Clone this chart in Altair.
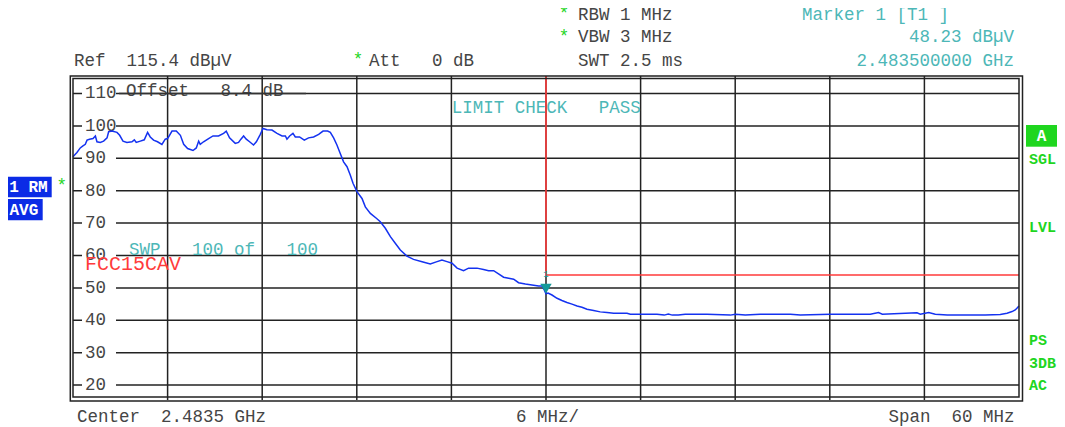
import altair as alt
import pandas as pd

# ---------------- data ----------------
# frequency offset from centre 2.4835 GHz in MHz, trace level in dBuV
freq_mhz = [-30.0, -29.75, -29.54, -29.37, -29.22, -29.11, -28.95, -28.73, -28.58, -28.48,
            -28.27, -28.06, -27.84, -27.74, -27.53, -27.21, -27.04, -26.83, -26.58, -26.26,
            -26.11, -25.99, -25.73, -25.48, -25.27, -25.10, -24.89, -24.64, -24.36, -24.15,
            -24.00, -23.72, -23.45, -23.19, -22.98, -22.73, -22.39, -22.18, -22.03, -21.93,
            -21.72, -21.40, -21.12, -20.77, -20.45, -20.28, -20.07, -19.71, -19.50, -19.35,
            -19.18, -19.01, -18.80, -18.55, -18.37, -18.12, -17.95, -17.70, -17.38, -17.06,
            -16.74, -16.53, -16.43, -16.26, -16.05, -15.90, -15.63, -15.33, -15.06, -14.74,
            -14.42, -14.14, -13.85, -13.68, -13.47, -13.26, -13.05, -12.84, -12.62, -12.41,
            -12.24, -11.99, -11.67, -11.46, -11.14, -10.76, -10.51, -10.19, -9.87, -9.56,
            -9.24, -8.82, -8.40, -7.86, -7.34, -6.91, -6.60, -6.28, -5.96, -5.64,
            -5.23, -4.91, -4.38, -3.96, -3.64, -3.32, -3.01, -2.69, -2.37, -2.05,
            -1.74, -1.31, -0.89, -0.47, -0.25, -0.11, 0.00, 0.13, 0.38, 0.70,
            1.01, 1.33, 1.65, 1.97, 2.28, 2.60, 3.02, 3.44, 3.87, 4.29,
            4.71, 5.14, 5.35, 5.98, 7.04, 7.50, 7.76, 8.01, 8.39, 8.83,
            10.21, 11.69, 12.01, 12.64, 13.59, 15.50, 16.13, 18.03, 20.57, 21.09,
            21.33, 23.53, 23.74, 24.27, 24.69, 25.45, 26.28, 27.86, 28.81, 29.24,
            29.56, 29.76, 30.0]
level_dbuv = [90.5, 91.8, 93.2, 93.8, 94.3, 95.6, 95.9, 96.1, 96.9, 95.1,
              94.9, 95.3, 96.3, 98.2, 98.4, 98.0, 97.1, 95.3, 94.9, 95.1,
              95.7, 94.9, 95.3, 95.7, 98.0, 96.6, 95.6, 95.1, 94.3, 95.9,
              96.1, 98.4, 98.4, 97.1, 94.3, 93.0, 92.4, 93.2, 95.3, 94.3,
              95.1, 96.1, 96.9, 96.9, 97.7, 98.4, 96.3, 94.6, 94.9, 95.9,
              96.9, 95.9, 95.1, 94.1, 95.1, 97.4, 99.2, 98.8, 98.7, 97.7,
              96.9, 96.9, 95.9, 96.9, 97.7, 96.6, 96.6, 95.6, 96.3, 96.6,
              97.4, 98.4, 98.4, 98.0, 96.3, 94.1, 91.5, 88.9, 87.4, 84.8,
              82.3, 79.7, 77.6, 75.0, 73.0, 71.5, 70.4, 68.4, 65.8, 63.8,
              61.7, 59.8, 58.8, 58.1, 57.4, 58.1, 58.6, 58.1, 57.6, 56.1,
              55.3, 56.1, 56.1, 55.7, 55.3, 55.3, 54.3, 53.3, 53.0, 52.7,
              51.6, 51.2, 50.9, 50.6, 50.6, 49.4, 48.2, 48.4, 47.8, 46.8,
              46.1, 45.5, 45.0, 44.4, 44.0, 43.4, 43.0, 42.6, 42.4, 42.2,
              42.2, 42.2, 41.9, 41.9, 41.9, 41.6, 41.9, 41.6, 41.6, 41.9,
              41.9, 41.6, 41.9, 41.6, 41.9, 41.9, 41.6, 41.9, 41.9, 42.4,
              41.9, 42.3, 41.9, 42.4, 41.9, 41.6, 41.6, 41.6, 41.8, 42.2,
              42.7, 43.2, 44.4]

y_ticks = [110, 100, 90, 80, 70, 60, 50, 40, 30, 20]
x_grid = [-24, -18, -12, -6, 0, 6, 12, 18, 24]

limit_freq = [0, 0, 30]
limit_level = [115.4, 54, 54]

marker_freq = [0.0]
marker_level = [48.23]

# ---------------- styling ----------------
W, H = 946, 324
FONT = "Liberation Mono"
FS = 17.5
GRID = "#222222"
TEXT = "#454545"
CYAN = "#4db7b7"
GREEN = "#1fd61f"
BLUEBOX = "#0b2be6"
TRACE = "#1432f0"
RED = "#ff3b3b"
TEAL = "#159a9a"
NB = "\u00a0"

x_scale = alt.Scale(domain=[-30, 30], nice=False, zero=False)
y_scale = alt.Scale(domain=[15.4, 115.4], nice=False, zero=False)

trace_df = pd.DataFrame({"f": freq_mhz, "L": level_dbuv})

trace = alt.Chart(trace_df).mark_line(color=TRACE, strokeWidth=1.5).encode(
    x=alt.X("f:Q", scale=x_scale, axis=None),
    y=alt.Y("L:Q", scale=y_scale, axis=None),
)

tick_df = pd.DataFrame({"v": y_ticks})
hgrid = alt.Chart(tick_df).mark_rule(color=GRID, strokeWidth=1.5).encode(
    y=alt.Y("v:Q", scale=y_scale, axis=None)
)
vgrid = alt.Chart(pd.DataFrame({"g": x_grid})).mark_rule(color=GRID, strokeWidth=1.5).encode(
    x=alt.X("g:Q", scale=x_scale, axis=None)
)

label_bg = alt.Chart(tick_df).mark_rect(color="white").transform_calculate(
    lo="datum.v - 2.3", hi="datum.v + 2.3"
).encode(
    x=alt.value(9), x2=alt.value(43),
    y=alt.Y("lo:Q", scale=y_scale, axis=None), y2="hi:Q",
)
label_txt = alt.Chart(tick_df).mark_text(
    align="left", baseline="middle", font=FONT, fontSize=FS, color=TEXT
).encode(
    x=alt.value(12),
    y=alt.Y("v:Q", scale=y_scale, axis=None),
    text=alt.Text("v:Q", format="d"),
)

limit_df = pd.DataFrame({"f": limit_freq, "L": limit_level, "o": [0, 1, 2]})
limit = alt.Chart(limit_df).mark_line(color=RED, strokeWidth=1.6).encode(
    x=alt.X("f:Q", scale=x_scale, axis=None),
    y=alt.Y("L:Q", scale=y_scale, axis=None),
    order=alt.Order("o:Q"),
)

marker_df = pd.DataFrame({"f": marker_freq, "L": marker_level})
marker = alt.Chart(marker_df).mark_point(
    shape="triangle-down", filled=True, size=130, color=TEAL, opacity=1, yOffset=-5
).encode(
    x=alt.X("f:Q", scale=x_scale, axis=None),
    y=alt.Y("L:Q", scale=y_scale, axis=None),
)
marker_lbl = alt.Chart(marker_df).mark_text(
    text="1", fontSize=9, font=FONT, color=TEAL, dy=-20
).encode(
    x=alt.X("f:Q", scale=x_scale, axis=None),
    y=alt.Y("L:Q", scale=y_scale, axis=None),
)

offset_rule = alt.Chart(pd.DataFrame({"v": [110]})).mark_rule(color="#333333", strokeWidth=1.5).encode(
    y=alt.Y("v:Q", scale=y_scale, axis=None), x=alt.value(46), x2=alt.value(233)
)


def txt(s, x, y, color=TEXT, align="left", size=FS, weight="normal"):
    s = s.replace(" ", NB)
    return alt.Chart(pd.DataFrame({"t": [s]})).mark_text(
        align=align, baseline="middle", font=FONT, fontSize=size, color=color, fontWeight=weight
    ).encode(x=alt.value(x), y=alt.value(y), text="t:N")


def box(x1, x2, y1, y2, color):
    return alt.Chart(pd.DataFrame({"t": [0]})).mark_rect(color=color).encode(
        x=alt.value(x1), x2=alt.value(x2), y=alt.value(y1), y2=alt.value(y2)
    )


def frame(x1, x2, y1, y2):
    return alt.Chart(pd.DataFrame({"t": [0]})).mark_rect(
        filled=False, stroke=GRID, strokeWidth=1.5
    ).encode(x=alt.value(x1), x2=alt.value(x2), y=alt.value(y1), y2=alt.value(y2))


texts = [
    txt("Ref  115.4 dB\u00b5V", 1, -15),
    txt("*", 285, -16, color=GREEN, align="center"),
    txt("Att   0 dB", 296, -15),
    txt("*", 491, -62, color=GREEN, align="center"),
    txt("RBW 1 MHz", 505, -61.3),
    txt("*", 491, -39.5, color=GREEN, align="center"),
    txt("VBW 3 MHz", 505, -38.7),
    txt("SWT 2.5 ms", 505, -15),
    txt("Marker 1 [T1 ]", 729, -61.3, color=CYAN),
    txt("48.23 dB\u00b5V", 941, -38.7, color=CYAN, align="right"),
    txt("2.483500000 GHz", 941, -15, color=CYAN, align="right"),
    txt("Center  2.4835 GHz", 4, 340.7),
    txt("6 MHz/", 474.5, 340.7, align="center"),
    txt("Span  60 MHz", 941.5, 340.7, align="right"),
    txt("Offset   8.4 dB", 53, 14.7),
    txt("LIMIT CHECK   PASS", 378.7, 32.3, color=CYAN),
    txt("SWP   100 of   100", 56, 174, color=CYAN),
    txt("FCC15CAV", 12, 188, color=RED, size=20),
    box(-65, -21.3, 100.7, 121.3, BLUEBOX),
    txt("1 RM", -63.7, 111, color="white", size=16, weight="bold"),
    txt("*", -11.3, 110, color=GREEN, align="center"),
    box(-65, -30.3, 123, 144.3, BLUEBOX),
    txt("AVG", -63.5, 133.7, color="white", size=16, weight="bold"),
    box(953, 984, 49, 70.7, GREEN),
    txt("A", 968.5, 60, color="white", align="center", size=16, weight="bold"),
    txt("SGL", 956, 83.3, color=GREEN, size=15, weight="bold"),
    txt("LVL", 956, 150.7, color=GREEN, size=15, weight="bold"),
    txt("PS", 956, 264, color=GREEN, size=15, weight="bold"),
    txt("3DB", 956, 286.7, color=GREEN, size=15, weight="bold"),
    txt("AC", 956, 309.3, color=GREEN, size=15, weight="bold"),
]

frames = [frame(-2.7, W + 3.5, 0, H + 1), frame(0, W, 2.5, H - 3)]

chart = alt.layer(
    hgrid, vgrid, label_bg, label_txt, *texts, offset_rule, limit, trace, marker, marker_lbl, *frames
).properties(
    width=W, height=H,
    padding={"left": 65, "top": 68, "right": 38, "bottom": 27},
    autosize=alt.AutoSizeParams(type="none"),
).configure_view(stroke=None)

chart.save("out.html", embed_options={"renderer": "svg", "actions": False})
